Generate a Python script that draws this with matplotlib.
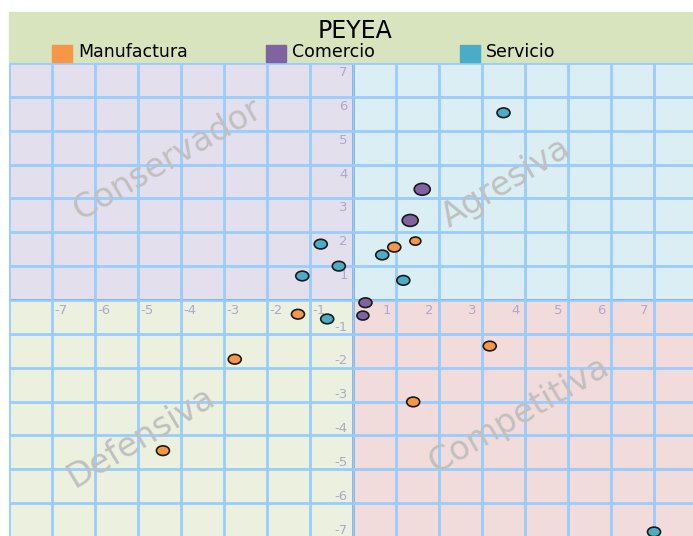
import matplotlib
matplotlib.use("Agg")
import matplotlib.pyplot as plt
from matplotlib.patches import Rectangle
from matplotlib.path import Path
from matplotlib.transforms import Affine2D

# Data
manuf_x = [1.45, 0.96, -1.28, -2.75, -4.42, 3.18, 1.40]
manuf_y = [1.74, 1.56, -0.42, -1.75, -4.45, -1.36, -3.01]
manuf_w = [11, 13, 13, 13, 13, 13, 13]

comer_x = [1.61, 1.33, 0.29, 0.23]
comer_y = [3.27, 2.35, -0.08, -0.46]
comer_w = [16, 16, 13, 12]

serv_x = [0.68, 1.17, -0.75, -0.33, -1.18, -0.60, 3.50, 7.0]
serv_y = [1.33, 0.58, 1.65, 1.00, 0.71, -0.56, 5.53, -6.85]
serv_w = [13, 13, 13, 13, 13, 13, 13, 13]

x_ticks = [-7, -6, -5, -4, -3, -2, -1, 1, 2, 3, 4, 5, 6, 7]
y_ticks = [-7, -6, -5, -4, -3, -2, -1, 1, 2, 3, 4, 5, 6, 7]

series_names = ["Manufactura", "Comercio", "Servicio"]
series_colors = ["#f79646", "#8064a2", "#4bacc6"]

quadrants = ["Conservador", "Agresiva", "Defensiva", "Competitiva"]

W, H = 693, 536
fig = plt.figure(figsize=(W / 100, H / 100), dpi=100)

# plot area in pixel terms: left 9, top 63, bottom 537, 43 px per x unit
ax = fig.add_axes([9 / W, (H - 537) / H, 688 / W, 474 / H])
ax.set_xlim(-8, 8)
ax.set_ylim(-7, 7)

# quadrant backgrounds
ax.add_patch(Rectangle((-8, 0), 8, 7, color="#e4dfec", zorder=0))
ax.add_patch(Rectangle((0, 0), 8, 7, color="#daeef3", zorder=0))
ax.add_patch(Rectangle((-8, -7), 8, 7, color="#ebf1de", zorder=0))
ax.add_patch(Rectangle((0, -7), 8, 7, color="#f2dcdb", zorder=0))

ax.set_xticks(range(-8, 9))
ax.set_yticks(range(-7, 8))
ax.grid(True, color="#99ccff", linewidth=2, zorder=1)
ax.set_axisbelow(False)
ax.tick_params(length=0, labelbottom=False, labelleft=False)
for s in ax.spines.values():
    s.set_visible(False)

ax.axhline(0, color="black", linewidth=1.4, zorder=2)
ax.axvline(0, color="black", linewidth=2, zorder=2)

# tick labels, shifted toward the axis like in the original
lab_color = "#b2a6cc"
for k in x_ticks:
    xp = k - 0.22 if k > 0 else k + 0.21
    ax.text(xp, -0.3, str(k), color=lab_color, fontsize=9.5,
            ha="center", va="center", zorder=3)
for k in y_ticks:
    yp = k - 0.28 if k > 0 else k + 0.2
    ax.text(-0.12, yp, str(k), color=lab_color, fontsize=9.5,
            ha="right", va="center", zorder=3)

# quadrant names
qcol = "#c0c0c0"
ax.text(-4.33, 4.15, quadrants[0], fontsize=24, color=qcol, rotation=30,
        ha="center", va="center", rotation_mode="anchor", zorder=3)
ax.text(3.56, 3.47, quadrants[1], fontsize=24, color=qcol, rotation=31,
        ha="center", va="center", rotation_mode="anchor", zorder=3)
ax.text(-4.93, -4.06, quadrants[2], fontsize=24, color=qcol, rotation=31,
        ha="center", va="center", rotation_mode="anchor", zorder=3)
ax.text(3.86, -3.41, quadrants[3], fontsize=24, color=qcol, rotation=30,
        ha="center", va="center", rotation_mode="anchor", zorder=3)

# elliptical bubble marker (the original is stretched horizontally)
ell = Path.unit_circle().transformed(Affine2D().scale(1.35, 1.0))

series = [(manuf_x, manuf_y, manuf_w), (comer_x, comer_y, comer_w),
          (serv_x, serv_y, serv_w)]
for (xs, ys, ws), c in zip(series, series_colors):
    sizes = [(w * 0.72) ** 2 for w in ws]
    ax.scatter(xs, ys, s=sizes, marker=ell, color=c, edgecolor="#1a1a1a",
               linewidth=1.2, zorder=5, clip_on=False)

# header band with title and legend
fig.add_artist(Rectangle((9 / W, (H - 63) / H), (W - 9) / W, 51 / H,
                         transform=fig.transFigure, color="#d7e4bd", zorder=0))
fig.text(355 / W, (H - 31) / H, "PEYEA", fontsize=17, ha="center",
         va="center", color="black")

sq_x = [52, 266, 460]
for name, c, px in zip(series_names, series_colors, sq_x):
    fig.add_artist(Rectangle((px / W, (H - 62) / H), 20 / W, 17 / H,
                             transform=fig.transFigure, color=c))
    fig.text((px + 26) / W, (H - 52) / H, name, fontsize=12.5,
             ha="left", va="center", color="black")

fig.savefig("out.png", dpi=100)
